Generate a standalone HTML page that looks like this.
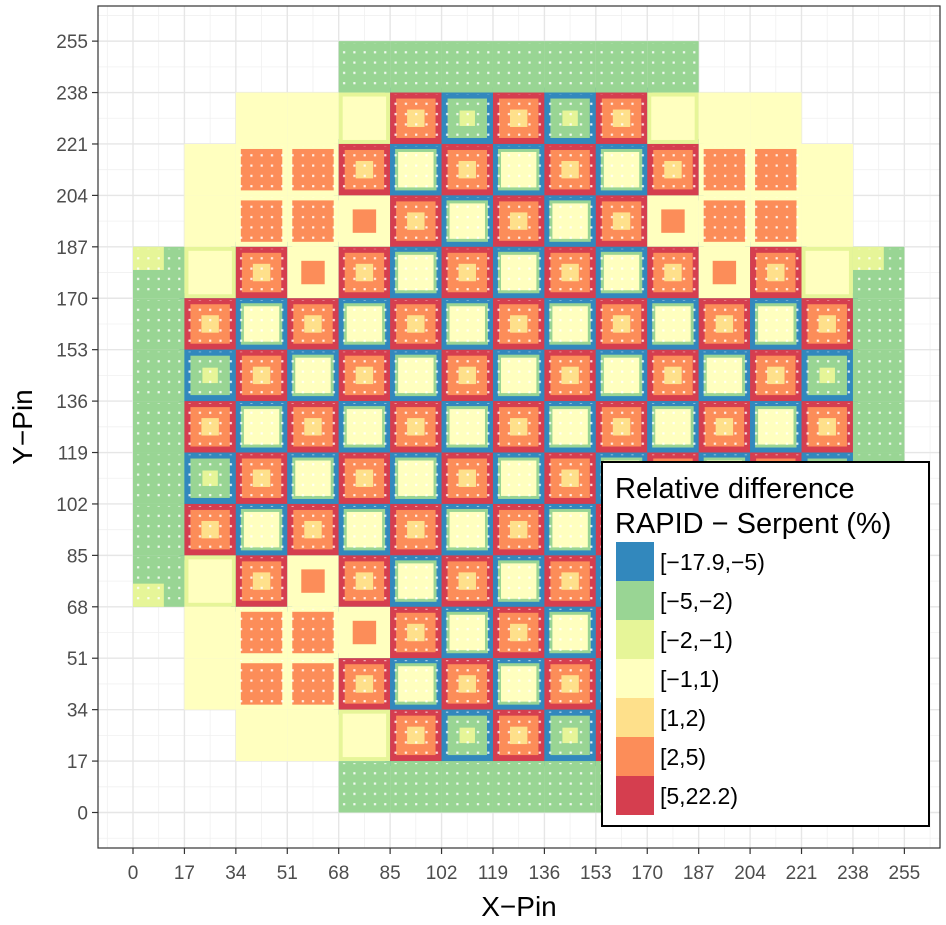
<!DOCTYPE html>
<html><head><meta charset="utf-8"><style>
html,body{margin:0;padding:0;background:#fff;}
svg{display:block;font-family:"Liberation Sans",Arial,sans-serif;}
</style></head><body>
<svg id="chart" width="946" height="925" viewBox="0 0 946 925" xmlns="http://www.w3.org/2000/svg">
<defs>
<pattern id="dots" width="10.3" height="10.3" patternUnits="userSpaceOnUse" x="133" y="6">
<rect x="4" y="4" width="2.2" height="2.2" fill="#ffffff" opacity="0.85"/>
</pattern>
</defs>
<rect x="98" y="6" width="842" height="842" fill="#fff"/>
<g id="grid"></g>
<g id="cells"></g>
<rect x="98" y="6" width="842" height="842" fill="none" stroke="#333" stroke-width="1.2"/>
<g id="axes"></g>
<text x="519" y="916" font-size="28" text-anchor="middle" fill="#000">X−Pin</text>
<text x="0" y="0" font-size="28" text-anchor="middle" fill="#000" transform="translate(32,427) rotate(-90)">Y−Pin</text>
<g id="legend">
<rect x="602" y="462" width="327" height="364" fill="#fff" stroke="#000" stroke-width="2"/>
<text x="615" y="498" font-size="29" fill="#000">Relative difference</text>
<text x="615" y="533" font-size="29" fill="#000">RAPID − Serpent (%)</text>
</g>
</svg>
<script>
// Legend categories and colours
const legendLabels = ["[−17.9,−5)","[−5,−2)","[−2,−1)","[−1,1)","[1,2)","[2,5)","[5,22.2)"];
const legendColors = ["#3288bd","#99d594","#e6f598","#ffffbf","#fee08b","#fc8d59","#d53e4f"];
const tickValues = [0,17,34,51,68,85,102,119,136,153,170,187,204,221,238,255];
// Assembly map (row 0 = top, pins 238-255). Codes:
// . empty, G green reflector, g mixed reflector, Y yellow reflector, R red-rim assembly,
// B blue-rim assembly, b blue-rim green interior, O orange corner, M light w/ orange centre, L light assembly
const assemblyRows = [
 "....GGGGGGG....",
 "..YYLRbRbRLYY..",
 ".YOORBRBRBROOY.",
 ".YOOMRBRBRMOOY.",
 "gLRMRBRBRBRMRLg",
 "GRBRBRBRBRBRBRG",
 "GbRBRBRBRBRBRbG",
 "GRBRBRBRBRBRBRG",
 "GbRBRBRBRBRBRbG",
 "GRBRBRBRBRBRBRG",
 "gLRMRBRBRBRMRLg",
 ".YOOMRBRBRMOOY.",
 ".YOORBRBRBROOY.",
 "..YYLRbRbRLYY..",
 "....GGGGGGG...."
];
const pinsPerAssembly = 17;

const NS="http://www.w3.org/2000/svg";
const x0=133, y0=812.5, k=3.025;
function xs(p){return x0+p*k;}
function ys(p){return y0-p*k;}
function mk(tag,attrs,parent){const e=document.createElementNS(NS,tag);for(const a in attrs)e.setAttribute(a,attrs[a]);parent.appendChild(e);return e;}

const grid=document.getElementById('grid');
for(let i=-1;i<tickValues.length;i++){
  const v=(i<0?-8.5:tickValues[i]+8.5);
  const ln1=mk('line',{x1:xs(v),x2:xs(v),y1:6,y2:848,stroke:'#f0f0f0','stroke-width':0.8},grid);
  
  
  const ln2=mk('line',{y1:ys(v),y2:ys(v),x1:98,x2:940,stroke:'#f0f0f0','stroke-width':0.8},grid);
  
  
}
tickValues.forEach(v=>{
  const a=mk('line',{x1:xs(v),x2:xs(v),y1:6,y2:848,stroke:'#e6e6e6','stroke-width':1.4},grid);
  
  
  const b=mk('line',{y1:ys(v),y2:ys(v),x1:98,x2:940,stroke:'#e6e6e6','stroke-width':1.4},grid);
  
  
});

const cells=document.getElementById('cells');
const C={blue:"#3288bd",green:"#99d594",lg:"#e6f598",ly:"#ffffbf",yo:"#fee08b",or:"#fc8d59",red:"#d53e4f"};
function cellBox(r,c){
  const pl=c*pinsPerAssembly, pt=(assemblyRows.length-r)*pinsPerAssembly;
  const x=xs(pl), y=ys(pt), w=xs(pl+pinsPerAssembly)-x, h=ys(pt-pinsPerAssembly)-y;
  return {x,y,w,h};
}
function rect(b,inset,fill,name){
  const e=mk('rect',{x:b.x+inset,y:b.y+inset,width:b.w-2*inset,height:b.h-2*inset,fill:fill},cells);
  
  
  return e;
}
// blue rim behind fuel assemblies
assemblyRows.forEach((row,r)=>{[...row].forEach((t,c)=>{
  if("RBb".includes(t)){const b=cellBox(r,c);
    const e=mk('rect',{x:b.x-5,y:b.y-5,width:b.w+10,height:b.h+10,fill:C.blue,rx:4},cells);
    
    }
});});
assemblyRows.forEach((row,r)=>{[...row].forEach((t,c)=>{
  if(t==='.')return;
  const b=cellBox(r,c);
  if(t==='G'){rect(b,0,C.green,'reflector-cell');}
  else if(t==='g'){rect(b,0,C.green,'reflector-cell');
    const e=mk('rect',{x:b.x,y:(r<7?b.y:b.y+b.h*0.55),width:b.w*0.6,height:b.h*0.45,fill:C.lg},cells);
    
    }
  else if(t==='Y'){rect(b,0,C.ly,'reflector-cell');}
  else if(t==='R'){rect(b,0,C.red,'assembly-cell');rect(b,6,C.or,'assembly-interior');rect(b,17,C.yo,'assembly-centre');}
  else if(t==='B'){rect(b,0,C.blue,'assembly-cell');rect(b,5,C.green,'assembly-ring');rect(b,8,C.ly,'assembly-interior');}
  else if(t==='b'){rect(b,0,C.blue,'assembly-cell');rect(b,6,C.green,'assembly-interior');rect(b,18,C.lg,'assembly-centre');}
  else if(t==='O'){rect(b,0,C.ly,'assembly-cell');rect(b,5,C.or,'assembly-interior');}
  else if(t==='M'){rect(b,0,C.ly,'assembly-cell');rect(b,3,C.ly,'assembly-interior');rect(b,14,C.or,'assembly-centre');}
  else if(t==='L'){rect(b,0,C.lg,'assembly-cell');rect(b,4,C.ly,'assembly-interior');}
  if(t!=='Y'&&t!=='L'&&t!=='M'){const d=rect(b,2,'url(#dots)','pin-dots');}
});});

const axes=document.getElementById('axes');
tickValues.forEach(v=>{
  const t1=mk('line',{x1:xs(v),x2:xs(v),y1:848,y2:854,stroke:'#333','stroke-width':1.2},axes);
  
  
  const l1=mk('text',{x:xs(v),y:879,'font-size':19,'text-anchor':'middle',fill:'#4d4d4d'},axes);
  l1.textContent=v;
  
  
  const t2=mk('line',{x1:92,x2:98,y1:ys(v),y2:ys(v),stroke:'#333','stroke-width':1.2},axes);
  
  
  const l2=mk('text',{x:88,y:ys(v)+7,'font-size':19,'text-anchor':'end',fill:'#4d4d4d'},axes);
  l2.textContent=v;
  
  
});

const legend=document.getElementById('legend');
legendLabels.forEach((lab,i)=>{
  const y=542+i*39;
  const k1=mk('rect',{x:616,y:y,width:38,height:39,fill:legendColors[i]},legend);
  
  
  const t=mk('text',{x:660,y:y+28,'font-size':23,fill:'#000'},legend);
  t.textContent=lab;
  
  
});
</script>
</body></html>
